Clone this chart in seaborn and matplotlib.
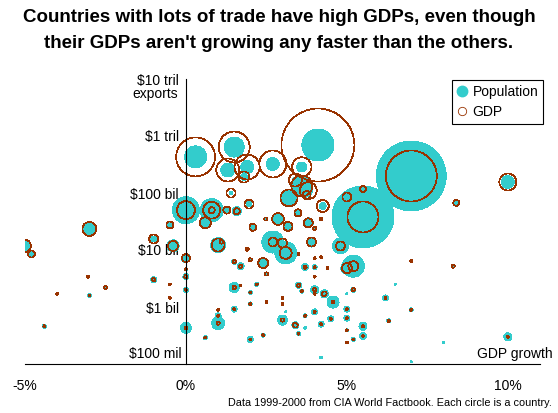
import numpy as np
import pandas as pd
import matplotlib.pyplot as plt
from matplotlib.lines import Line2D
from matplotlib.ticker import NullLocator
import seaborn as sns

# one entry per country: GDP growth (%), exports ($ bil), population (millions), GDP ($ bil, PPP)
growth = [0.3, 1.5, 1.3, 1.9, 1.8, 2.7, 3.6, 4.1, 3.4, 3.6, 3.8, 3.75, 7.0, 5.5, 5.0, 5.5, 8.4, 4.2, 10.0, 4.8,
          5.2, 5.0, 0.0, 0.8, 0.8, 0.6, 1.4, 1.27, 1.58, 1.96, 2.48, 2.86, 3.2, 3.48, 3.8, 4.0, 4.25, 2.08, 3.17,
          -0.5, -3.0, -5.0, -4.8, -3.04, -4.0, -3.0, -2.5, -4.4, -1.0, -0.4, -1.0, -0.5, -0.5, 0.0, 0.0, 0.0, 0.0,
          0.0, 1.0, 1.1, 1.9, 2.7, 3.1, 3.0, 3.5, 4.0, 4.2, 4.4, 3.9, 1.5, 1.7, 2.0, 2.4, 2.5, 3.7, 4.0, 4.0,
          1.5, 1.7, 2.0, 2.2, 2.5, 2.0, 3.0, 3.0, 3.5, 3.6, 4.0, 4.0, 4.3, 4.57, 1.5, 1.0, 1.0, 1.0, 0.6, 2.0,
          2.4, 3.0, 3.4, 3.5, 3.7, 4.0, 4.2, 4.5, 3.1, 3.7, 4.2, 7.0, 8.3, 5.2, 6.2, 5.0, 5.0, 7.0, 6.3, 5.5,
          5.5, 5.0, 5.2, 5.0, 10.0, 6.5, 5.0, 8.0, 7.0]
exports_bil = [430, 640, 253, 286, 191, 323, 286, 695, 169, 133, 110, 92, 199, 38, 85, 117, 67, 35, 156, 11.8,
               5.2, 4.8, 50, 50, 50, 30, 100, 50, 48, 64, 35, 35, 82, 45, 30, 24, 59, 25, 26,
               27.5, 23.4, 11.8, 8.5, 3.4, 1.7, 1.6, 2.2, 0.46, 15.6, 11.8, 3.0, 2.5, 1.44, 7.2, 4.6, 3.4, 2.0,
               0.43, 12.2, 13.8, 10.4, 13.8, 8.9, 13.3, 8.5, 7.2, 7.5, 4.8, 13.8, 6.2, 5.2, 6.7, 5.9, 3.8, 5.0, 5.0, 3.4,
               2.2, 2.4, 1.8, 2.5, 1.22, 1.13, 1.44, 1.13, 2.4, 1.9, 2.0, 1.7, 1.7, 1.22, 0.92, 0.89, 0.70, 0.52, 0.29, 0.27,
               0.32, 0.59, 0.48, 0.34, 0.70, 0.82, 0.50, 0.62, 0.82, 0.43, 0.13, 6.4, 5.2, 2.0, 1.44, 0.92, 0.64, 0.89, 0.57, 0.46,
               0.31, 0.39, 0.27, 0.24, 0.30, 2.5, 1.7, 0.24, 0.11]
population_m = [121, 100, 49, 42, 12, 42, 25, 256, 9, 100, 20, 4, 1225, 961, 2, 2, 2, 1, 42, 64,
                121, 36, 182, 132, 2, 30, 4, 12, 20, 6, 1, 36, 72, 6, 25, 4, 12, 12, 20,
                12, 49, 36, 12, 1, 1, 4, 1, 4, 9, 36, 9, 1, 1, 20, 2, 9, 6,
                30, 56, 1, 1, 121, 121, 2, 1, 1, 1, 1, 25, 6, 12, 1, 30, 1, 12, 6, 1,
                25, 1, 4, 4, 1, 4, 1, 1, 9, 4, 16, 1, 16, 36, 9, 1, 9, 42, 4, 9,
                4, 25, 12, 4, 4, 9, 9, 9, 1, 2, 2, 1, 4, 6, 9, 9, 9, 4, 4, 16,
                12, 2, 4, 1, 16, 1, 1, 1, 1]
gdp_bil = [2820, 1780, 980, 1160, 225, 1350, 700, 9890, 314, 818, 536, 119, 4830, 1780, 150, 67, 67, 12, 536, 150,
           186, 186, 601, 536, 67, 225, 150, 91, 67, 150, 20, 267, 536, 91, 150, 20, 267, 91, 150,
           91, 364, 267, 91, 7, 7, 7, 20, 7, 150, 186, 20, 7, 7, 119, 7, 20, 7,
           12, 314, 20, 20, 150, 267, 150, 7, 7, 7, 7, 150, 20, 20, 20, 186, 20, 20, 7, 7,
           20, 7, 7, 7, 7, 7, 7, 7, 20, 7, 20, 7, 40, 12, 7, 7, 7, 20, 7, 7,
           7, 20, 40, 7, 7, 7, 7, 7, 0, 0, 0, 7, 20, 20, 7, 7, 7, 7, 7, 7,
           7, 7, 7, 7, 7, 0, 0, 0, 0]

df = pd.DataFrame({
    'growth': growth,
    'exports': np.array(exports_bil) * 1e9,
    'population': population_m,
    'gdp': gdp_bil,
})

sns.set_style('white')
plt.rcParams['font.family'] = ['Liberation Sans', 'DejaVu Sans']
plt.rcParams['text.color'] = 'black'

teal = '#33CCCC'
rust = '#993300'

fig = plt.figure(figsize=(5.58, 4.13), dpi=100)
ax = fig.add_axes([25 / 558, 49 / 413, 515 / 558, 285 / 413])

# circle area proportional to the value
pop_max = df['population'].max()
gdp_max = df['gdp'].max()
sns.scatterplot(data=df, x='growth', y='exports', size='population',
                sizes=(0, 2.07 * pop_max), size_norm=(0, pop_max),
                color=teal, linewidth=0, legend=False, ax=ax)
sns.scatterplot(data=df, x='growth', y='exports', size='gdp',
                sizes=(0, 0.279 * gdp_max), size_norm=(0, gdp_max),
                color=rust, linewidth=0.5, legend=False, ax=ax)
ax.collections[-1].set_facecolor('none')
ax.collections[-1].set_edgecolor(rust)
for coll in ax.collections:
    coll.set_antialiased(False)

ax.set_yscale('log')
ax.set_xlim(-5, 11)
ax.set_ylim(1e8, 1e13)
ax.yaxis.set_minor_locator(NullLocator())
ax.set_yticks([1e9, 1e10, 1e11, 1e12, 1e13])
ax.set_yticklabels([r'\$1 bil', r'\$10 bil', r'\$100 bil', r'\$1 tril', r'\$10 tril'])
ax.set_xticks([-5, 0, 5, 10])
ax.set_xticklabels(['-5%', '0%', '5%', '10%'])
ax.set_xlabel('')
ax.set_ylabel('')

ax.spines['left'].set_position(('data', 0))
ax.spines['top'].set_visible(False)
ax.spines['right'].set_visible(False)
for s in ['left', 'bottom']:
    ax.spines[s].set_linewidth(0.8)
    ax.spines[s].set_color('black')
ax.tick_params(axis='y', direction='out', length=3, width=0.8, pad=2, labelsize=10, colors='black')
ax.tick_params(axis='x', direction='in', length=3, width=0.8, pad=11, labelsize=10, colors='black')

ax.annotate('exports', xy=(0, 1e13), xytext=(-5.5, -10.5), textcoords='offset points',
            ha='right', va='center', fontsize=10)
ax.annotate(r'\$100 mil', xy=(0, 1e8), xytext=(-3, 7.5), textcoords='offset points',
            ha='right', va='center', fontsize=10)
ax.annotate('GDP growth', xy=(1, 0), xycoords='axes fraction', xytext=(9, 7.5),
            textcoords='offset points', ha='right', va='center', fontsize=10)

handles = [
    Line2D([], [], marker='o', ls='', mfc=teal, mec=teal, ms=7.5),
    Line2D([], [], marker='o', ls='', mfc='none', mec=rust, mew=0.6, ms=6),
]
leg = ax.legend(handles, ['Population', 'GDP'], loc='upper right',
                bbox_to_anchor=(543 / 558, 1 - 80 / 413), bbox_transform=fig.transFigure,
                borderaxespad=0, fancybox=False, framealpha=1, fontsize=10,
                handlelength=0.8, handletextpad=0.35, borderpad=0.35, labelspacing=0.45)
leg.get_frame().set_edgecolor('black')
leg.get_frame().set_linewidth(0.8)

fig.text(0.5, 1 - 18 / 413, 'Countries with lots of trade have high GDPs, even though',
         ha='center', va='center', fontsize=13.5, fontweight='bold')
fig.text(0.5, 1 - 43 / 413, "their GDPs aren't growing any faster than the others.",
         ha='center', va='center', fontsize=13.5, fontweight='bold')
fig.text(552 / 558, 1 - 403 / 413, 'Data 1999-2000 from CIA World Factbook. Each circle is a country.',
         ha='right', va='center', fontsize=7.8)

fig.savefig('out.png', dpi=100)
